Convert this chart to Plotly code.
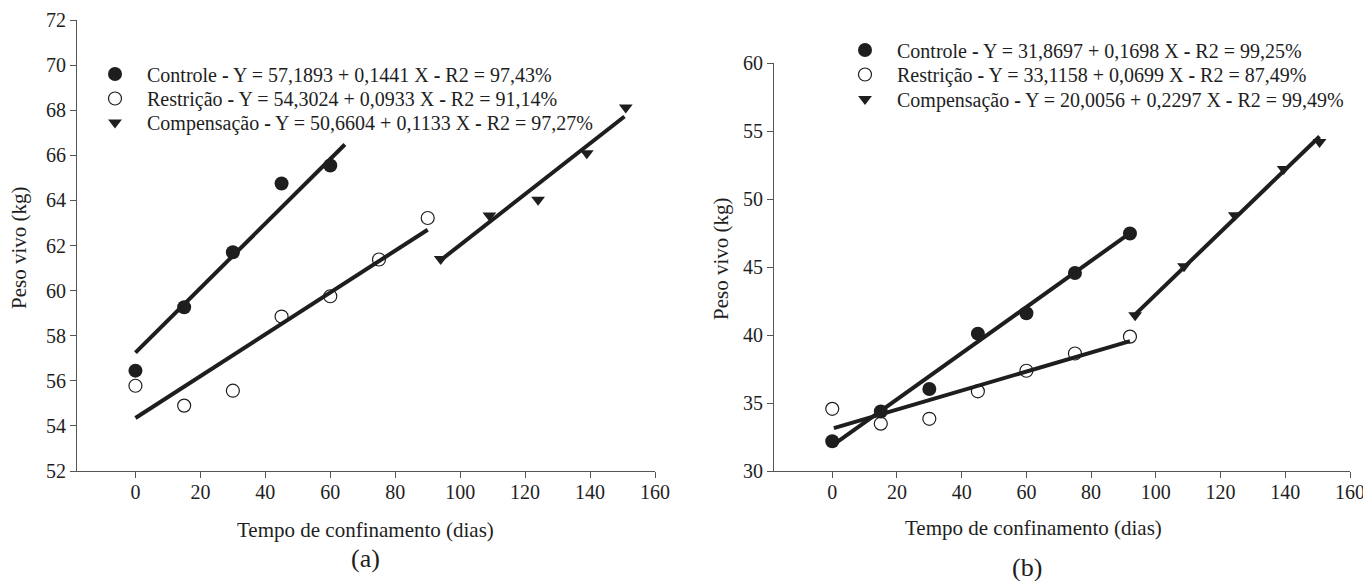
import plotly.graph_objects as go

# ---------------- data: panel (a) ----------------
a_ctrl_x = [0, 15, 30, 45, 60]
a_ctrl_y = [56.45, 59.26, 61.70, 64.75, 65.55]
a_rest_x = [0, 15, 30, 45, 60, 75, 90]
a_rest_y = [55.78, 54.90, 55.56, 58.85, 59.75, 61.38, 63.22]
a_comp_x = [94, 109, 124, 139, 151]
a_comp_y = [61.40, 63.33, 64.03, 66.09, 68.12]
# fitted lines (end points)
a_fit_ctrl_x = [0, 64.5]
a_fit_ctrl_y = [57.25, 66.48]
a_fit_rest_x = [0, 90]
a_fit_rest_y = [54.35, 62.70]
a_fit_comp_x = [94, 150.6]
a_fit_comp_y = [61.35, 67.72]

# ---------------- data: panel (b) ----------------
b_ctrl_x = [0, 15, 30, 45, 60, 75, 92]
b_ctrl_y = [32.19, 34.38, 36.03, 40.10, 41.60, 44.56, 47.46]
b_rest_x = [0, 15, 30, 45, 60, 75, 92]
b_rest_y = [34.57, 33.48, 33.84, 35.86, 37.37, 38.64, 39.88]
b_comp_x = [93.6, 108.7, 124.4, 139.5, 150.6]
b_comp_y = [41.45, 45.05, 48.80, 52.20, 54.20]
b_fit_ctrl_x = [0.5, 92]
b_fit_ctrl_y = [31.95, 47.49]
b_fit_rest_x = [0.5, 92]
b_fit_rest_y = [33.15, 39.55]
b_fit_comp_x = [93, 150.6]
b_fit_comp_y = [41.37, 54.60]

a_labels = [
    "Controle <b>-</b> Y = 57,1893 + 0,1441 X <b>-</b> R2 = 97,43%",
    "Restrição <b>-</b> Y = 54,3024 + 0,0933 X <b>-</b> R2 = 91,14%",
    "Compensação <b>-</b> Y = 50,6604 + 0,1133 X <b>-</b> R2 = 97,27%",
]
b_labels = [
    "Controle <b>-</b> Y = 31,8697 + 0,1698 X <b>-</b> R2 = 99,25%",
    "Restrição <b>-</b> Y = 33,1158 + 0,0699 X <b>-</b> R2 = 87,49%",
    "Compensação <b>-</b> Y = 20,0056 + 0,2297 X <b>-</b> R2 = 99,49%",
]

x_ticks = [0, 20, 40, 60, 80, 100, 120, 140, 160]
a_y_ticks = [52, 54, 56, 58, 60, 62, 64, 66, 68, 70, 72]
b_y_ticks = [30, 35, 40, 45, 50, 55, 60]

FONT = "Liberation Serif"
INK = "#1e1e1e"
AXC = "#555555"

# the page body has an 8px margin; target positions below are screenshot pixels
OFF = 8
W, H = 1371 - OFF, 581 - OFF

def fx(px):
    return (px - OFF) / W

def fy(py):
    return (H - (py - OFF)) / H

m_ctrl = dict(symbol="circle", size=14, color=INK, line=dict(width=0))
m_rest = dict(symbol="circle-open", size=13, color=INK, line=dict(width=1.2))
m_comp = dict(symbol="triangle-down", size=12, color=INK, line=dict(width=0))

fig = go.Figure()

def add_panel(xa, ya, legs, labels, fits, pts):
    for fxs, fys in fits:
        fig.add_trace(go.Scatter(x=fxs, y=fys, mode="lines", xaxis=xa, yaxis=ya,
                                 line=dict(color=INK, width=4), showlegend=False,
                                 hoverinfo="skip"))
    for (px, py, mk), lab, lg in zip(pts, labels, legs):
        fig.add_trace(go.Scatter(x=px, y=py, mode="markers", xaxis=xa, yaxis=ya,
                                 marker=mk, name=lab, legend=lg))

add_panel("x", "y", ["legend", "legend2", "legend3"], a_labels,
          [(a_fit_ctrl_x, a_fit_ctrl_y), (a_fit_rest_x, a_fit_rest_y), (a_fit_comp_x, a_fit_comp_y)],
          [(a_ctrl_x, a_ctrl_y, m_ctrl), (a_rest_x, a_rest_y, m_rest), (a_comp_x, a_comp_y, m_comp)])
add_panel("x2", "y2", ["legend4", "legend5", "legend6"], b_labels,
          [(b_fit_ctrl_x, b_fit_ctrl_y), (b_fit_rest_x, b_fit_rest_y), (b_fit_comp_x, b_fit_comp_y)],
          [(b_ctrl_x, b_ctrl_y, m_ctrl), (b_rest_x, b_rest_y, m_rest), (b_comp_x, b_comp_y, m_comp)])

axis_common = dict(showline=True, linecolor=AXC, linewidth=1, ticks="outside",
                   ticklen=6, tickcolor=AXC, tickwidth=1, showgrid=False, zeroline=False,
                   automargin=False,
                   tickfont=dict(family=FONT, size=20, color=INK), fixedrange=True)

def leg(px, py):
    return dict(x=fx(px), y=fy(py), xanchor="left", yanchor="middle",
                bgcolor="rgba(0,0,0,0)", itemwidth=54, tracegroupgap=0,
                font=dict(family=FONT, size=20, color=INK))

fig.update_layout(
    template="none",
    width=W, height=H,
    margin=dict(l=0, r=0, t=0, b=0, pad=0),
    paper_bgcolor="white", plot_bgcolor="white",
    font=dict(family=FONT, size=20, color=INK),
    xaxis=dict(domain=[fx(77), fx(655)], range=[-18, 160], tickvals=x_ticks,
               anchor="y", ticklabelstandoff=-3, **axis_common),
    yaxis=dict(domain=[fy(471), fy(20)], range=[52, 72], tickvals=a_y_ticks,
               anchor="x", ticklabelstandoff=0, **axis_common),
    xaxis2=dict(domain=[fx(774), fx(1350)], range=[-18, 160], tickvals=x_ticks,
                anchor="y2", ticklabelstandoff=-3, **axis_common),
    yaxis2=dict(domain=[fy(471), fy(63)], range=[30, 60], tickvals=b_y_ticks,
                anchor="x2", ticklabelstandoff=0, **axis_common),
    legend=leg(83, 74),
    legend2=leg(83, 98.5),
    legend3=leg(83, 122.5),
    legend4=leg(833, 50),
    legend5=leg(833, 74.5),
    legend6=leg(833, 99),
    showlegend=True,
)

def ann(text, x, y, size=21, angle=0):
    fig.add_annotation(text=text, x=fx(x), y=fy(y), xref="paper", yref="paper",
                       xanchor="center", yanchor="middle", showarrow=False,
                       textangle=angle, font=dict(family=FONT, size=size, color=INK))

ann("Tempo de confinamento (dias)", 365, 530)
ann("(a)", 365, 558, size=26)
ann("Tempo de confinamento (dias)", 1033, 528)
ann("(b)", 1027, 567, size=26)
ann("Peso vivo (kg)", 19, 248, angle=-90)
ann("Peso vivo (kg)", 721, 259, angle=-90)

fig.write_html("out.html")
